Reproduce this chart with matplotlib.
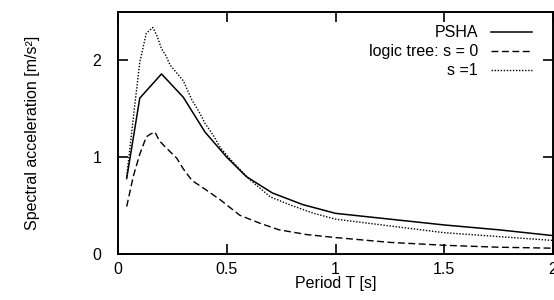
import matplotlib
matplotlib.use("Agg")
import matplotlib.pyplot as plt

plt.rcParams['font.family'] = ['Liberation Sans', 'DejaVu Sans']

# Data
T_psha = [0.04, 0.10, 0.20, 0.30, 0.40, 0.50, 0.59, 0.71, 0.85, 1.00, 1.25, 1.50, 1.75, 2.00]
sa_psha = [0.78, 1.61, 1.86, 1.62, 1.26, 1.00, 0.80, 0.63, 0.51, 0.42, 0.36, 0.30, 0.25, 0.19]

T_s1 = [0.04, 0.07, 0.10, 0.13, 0.16, 0.18, 0.20, 0.22, 0.24, 0.27, 0.30, 0.34, 0.37, 0.40,
        0.44, 0.47, 0.52, 0.60, 0.70, 0.80, 0.90, 1.00, 1.25, 1.50, 1.75, 2.00]
sa_s1 = [0.80, 1.40, 1.98, 2.28, 2.34, 2.25, 2.12, 2.05, 1.95, 1.87, 1.79, 1.59, 1.48, 1.35,
         1.22, 1.10, 0.97, 0.78, 0.59, 0.50, 0.42, 0.36, 0.29, 0.22, 0.18, 0.14]

T_s0 = [0.04, 0.07, 0.10, 0.13, 0.15, 0.17, 0.19, 0.22, 0.27, 0.30, 0.34, 0.40, 0.47, 0.56,
        0.65, 0.74, 0.87, 1.00, 1.25, 1.50, 1.75, 2.00]
sa_s0 = [0.49, 0.80, 1.03, 1.21, 1.24, 1.26, 1.17, 1.10, 0.99, 0.88, 0.76, 0.67, 0.56, 0.40,
         0.32, 0.25, 0.20, 0.17, 0.12, 0.09, 0.07, 0.06]

labels = ["PSHA", "logic tree: s = 0", "s =1"]
x_ticks = [0, 0.5, 1, 1.5, 2]
x_tick_labels = ["0", "0.5", "1", "1.5", "2"]
y_ticks = [0, 1, 2]

fs = 11.5
fig = plt.figure(figsize=(5.54, 3.0), dpi=100)
ax = fig.add_axes([118/554, 46/300, 435/554, 242/300])

l1, = ax.plot(T_psha, sa_psha, color='black', lw=1.1, ls='-')
l2, = ax.plot(T_s0, sa_s0, color='black', lw=1.0, ls=(0, (5, 2.5)))
l3, = ax.plot(T_s1, sa_s1, color='black', lw=1.0, ls=(0, (1, 1.2)))

ax.set_xlim(0, 2)
ax.set_ylim(0, 2.5)
ax.set_xticks(x_ticks)
ax.set_xticklabels(x_tick_labels)
ax.set_yticks(y_ticks)
ax.tick_params(direction='in', length=7, width=1.2, top=True, right=True,
               labelsize=fs)
ax.tick_params(axis='y', pad=12)
ax.tick_params(axis='x', pad=6)
for s in ax.spines.values():
    s.set_linewidth(1.4)

ax.set_xlabel("Period T [s]", fontsize=fs, labelpad=-1)
ax.set_ylabel("Spectral acceleration [m/s²]", fontsize=fs, labelpad=38)

leg = ax.legend([l1, l2, l3], labels, loc='upper right', frameon=False,
                markerfirst=False, fontsize=fs, handlelength=2.6,
                handletextpad=0.8, labelspacing=0.25, borderpad=0,
                bbox_to_anchor=(0.952, 0.945), borderaxespad=0)

fig.savefig("out.png", dpi=100)
